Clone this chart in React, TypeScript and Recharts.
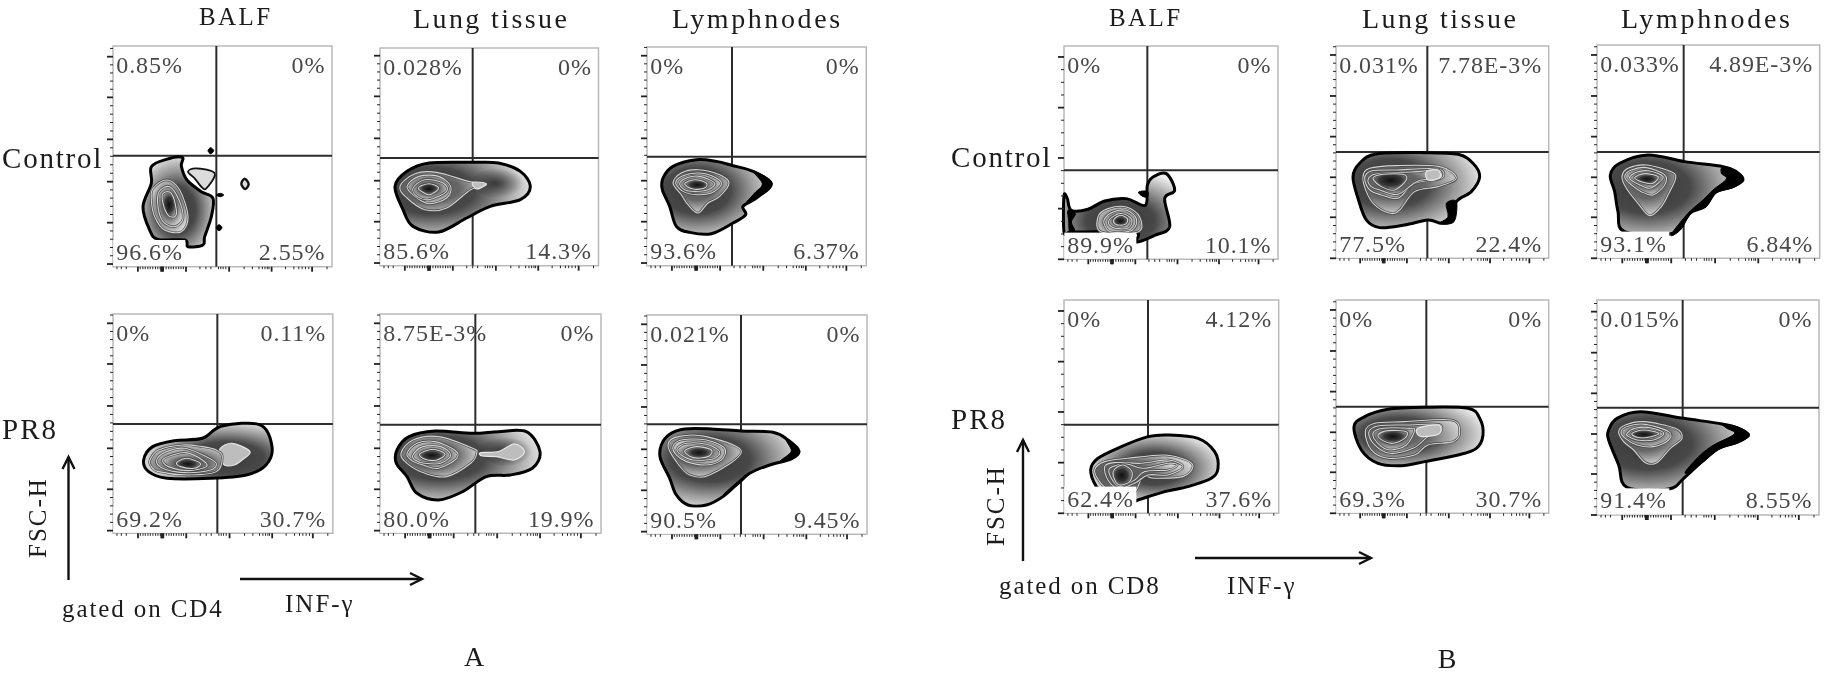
import React from "react";
import { ScatterChart, Scatter, XAxis, YAxis, ReferenceLine, ReferenceArea } from "recharts";

const SERIF = '"Liberation Serif", "Times New Roman", serif';

type Pt = { x: number; y: number };
type Kind = "outer" | "shade" | "ring" | "core" | "lobe" | "patch" | "ink" | "spot";
type Contour = { kind: Kind; pts: Pt[] };

const pts = (xs: number[], ys: number[]): Pt[] => xs.map((x, i) => ({ x, y: ys[i] }));
const c = (kind: Kind, xs: number[], ys: number[]): Contour => ({ kind, pts: pts(xs, ys) });

const xMinorTicks = [12, 25, 40, 82, 90, 97, 105, 112, 120, 128, 135, 142, 152, 160, 168, 175, 182, 190, 198, 205, 212, 262, 280, 295, 318, 325, 332, 340, 395, 420, 440, 450, 458, 465, 470, 520, 545, 560, 570, 580, 590, 645];
const xMajorTicks = [75, 145, 148, 151, 220, 350, 478, 600];
const yMajorA = [8, 132, 255, 382, 508, 630];
const yMajorB = [0, 123, 243, 365, 487, 610];
const yMajorBalf = [0, 152, 304, 455, 607];

const a1Labels = ["0.85%", "0%", "96.6%", "2.55%"];
const a2Labels = ["0.028%", "0%", "85.6%", "14.3%"];
const a3Labels = ["0%", "0%", "93.6%", "6.37%"];
const a4Labels = ["0%", "0.11%", "69.2%", "30.7%"];
const a5Labels = ["8.75E-3%", "0%", "80.0%", "19.9%"];
const a6Labels = ["0.021%", "0%", "90.5%", "9.45%"];
const b1Labels = ["0%", "0%", "89.9%", "10.1%"];
const b2Labels = ["0.031%", "7.78E-3%", "77.5%", "22.4%"];
const b3Labels = ["0.033%", "4.89E-3%", "93.1%", "6.84%"];
const b4Labels = ["0%", "4.12%", "62.4%", "37.6%"];
const b5Labels = ["0%", "0%", "69.3%", "30.7%"];
const b6Labels = ["0.015%", "0%", "91.4%", "8.55%"];

const a1Contours = [
  c("outer", [115, 160, 208, 205, 222, 265, 300, 295, 275, 270, 225, 215, 135, 110, 90, 115], [300, 322, 328, 302, 260, 225, 205, 150, 90, 65, 60, 80, 82, 110, 180, 250]),
  c("patch", [225, 250, 305, 280, 265, 245], [285, 295, 280, 235, 240, 265]),
  c("ring", [120, 160, 200, 225, 205, 155, 125, 115], [235, 260, 230, 150, 105, 110, 150, 200]),
  c("ring", [138, 170, 198, 210, 185, 150, 135], [225, 240, 200, 145, 120, 135, 180]),
  c("core", [150, 175, 190, 185, 165, 150], [220, 220, 170, 150, 155, 190]),
  c("spot", [385, 395, 407, 397], [248, 264, 248, 233]),
  c("ink", [285, 293, 302, 293], [348, 357, 348, 339]),
  c("ink", [310, 318, 327, 318], [117, 126, 117, 108]),
  c("ink", [310, 322, 332, 322], [215, 220, 215, 210]),
];
const a2Contours = [
  c("outer", [45, 81, 147, 278, 355, 421, 451, 421, 331, 260, 176, 99, 69], [238, 283, 308, 310, 308, 283, 238, 198, 178, 143, 101, 118, 168]),
  c("shade", [262, 331, 405, 430, 405, 331], [255, 290, 285, 250, 215, 205]),
  c("ring", [60, 105, 170, 265, 319, 272, 200, 135, 81], [238, 276, 280, 253, 243, 228, 173, 168, 203]),
  c("ring", [81, 117, 176, 212, 200, 147, 105], [238, 268, 268, 238, 203, 186, 208]),
  c("ring", [99, 135, 189, 200, 147, 111], [233, 258, 248, 223, 198, 208]),
  c("core", [115, 147, 176, 147], [233, 246, 233, 213]),
  c("lobe", [278, 319, 290], [250, 246, 230]),
];
const a3Contours = [
  c("outer", [48, 78, 148, 208, 258, 318, 373, 328, 288, 296, 258, 193, 128, 88, 68, 46], [263, 298, 318, 313, 300, 283, 246, 203, 178, 153, 128, 96, 100, 118, 178, 228]),
  c("ink", [318, 353, 375, 348, 298, 323, 346], [283, 268, 246, 218, 188, 218, 246]),
  c("ring", [78, 103, 153, 218, 246, 218, 183, 153, 123, 103], [248, 278, 288, 273, 248, 208, 188, 158, 183, 213]),
  c("ring", [86, 108, 158, 208, 223, 193, 148, 108], [248, 270, 278, 263, 243, 218, 213, 223]),
  c("ring", [98, 118, 158, 203, 183, 143, 113], [246, 263, 268, 248, 228, 223, 228]),
  c("core", [113, 143, 178, 173, 138], [246, 258, 248, 233, 230]),
];
const a4Contours = [
  c("outer", [92, 119, 185, 268, 327, 441, 477, 459, 400, 293, 162, 107], [220, 260, 278, 285, 322, 325, 260, 205, 175, 165, 165, 185]),
  c("lobe", [322, 358, 411, 387, 364, 334, 322], [255, 270, 245, 220, 205, 205, 230]),
  c("ring", [111, 137, 209, 268, 310, 328, 310, 220, 137, 115], [220, 250, 265, 260, 250, 230, 185, 175, 185, 200]),
  c("ring", [131, 161, 215, 280, 310, 292, 215, 149], [220, 245, 255, 230, 210, 190, 182, 195]),
  c("ring", [149, 179, 220, 268, 280, 226, 167], [220, 235, 242, 220, 200, 188, 200]),
  c("core", [191, 220, 262, 244, 203], [212, 225, 210, 195, 200]),
];
const a5Contours = [
  c("outer", [51, 87, 165, 278, 355, 439, 480, 457, 391, 319, 248, 176, 111, 81, 49], [250, 290, 307, 300, 305, 305, 245, 195, 175, 170, 125, 100, 120, 170, 210]),
  c("shade", [285, 355, 420, 455, 420, 350], [255, 285, 285, 245, 205, 205]),
  c("ring", [63, 99, 176, 278, 290, 272, 200, 135, 81], [240, 280, 290, 255, 240, 210, 170, 180, 210]),
  c("ring", [81, 111, 165, 224, 230, 176, 129, 93], [240, 270, 275, 250, 225, 195, 205, 220]),
  c("ring", [99, 129, 182, 212, 182, 135, 105], [235, 260, 260, 235, 210, 210, 220]),
  c("core", [119, 159, 195, 171, 135], [238, 252, 238, 220, 222]),
  c("lobe", [302, 355, 403, 433, 403, 349, 307], [242, 245, 268, 245, 220, 230, 232]),
];
const a6Contours = [
  c("outer", [43, 68, 113, 193, 283, 378, 423, 456, 433, 368, 308, 273, 228, 178, 123, 88, 68, 40], [268, 300, 316, 316, 310, 306, 283, 250, 226, 208, 183, 153, 113, 88, 88, 118, 168, 228]),
  c("ink", [418, 456, 433, 398, 423, 433], [283, 250, 226, 218, 238, 253]),
  c("ink", [228, 278, 308, 278], [118, 163, 183, 153]),
  c("ring", [63, 93, 178, 283, 188, 128, 88], [268, 293, 293, 248, 178, 178, 218]),
  c("ring", [78, 103, 178, 233, 223, 178, 118, 88], [263, 283, 283, 258, 223, 208, 218, 238]),
  c("ring", [90, 118, 178, 218, 198, 138, 103], [256, 273, 270, 248, 226, 223, 238]),
  c("core", [113, 148, 193, 183, 138], [250, 263, 253, 233, 230]),
];
const b1Contours = [
  c("outer", [0, 10, 22, 72, 122, 187, 244, 250, 267, 307, 332, 302, 317, 272, 217, 212, 47, 17, 0], [190, 182, 147, 150, 175, 182, 162, 222, 247, 257, 207, 182, 97, 72, 52, 82, 82, 82, 82]),
  c("ink", [12, 34, 22, 32, 17, 14], [147, 137, 112, 87, 82, 117]),
  c("ink", [224, 250, 250, 234], [202, 204, 187, 190]),
  c("ring", [102, 132, 187, 227, 222, 112], [127, 152, 157, 127, 82, 82]),
  c("ring", [122, 147, 187, 217, 204, 142, 122], [122, 142, 147, 122, 87, 82, 102]),
  c("ring", [137, 167, 197, 204, 192, 162, 137], [120, 137, 127, 112, 94, 92, 102]),
  c("core", [150, 170, 190, 187, 167, 152], [120, 132, 122, 107, 102, 107]),
];
const b2Contours = [
  c("outer", [51, 71, 121, 266, 366, 411, 431, 406, 361, 351, 316, 276, 206, 131, 91, 66], [245, 285, 313, 317, 312, 285, 245, 200, 170, 115, 105, 115, 100, 92, 115, 180]),
  c("ink", [331, 361, 354, 311, 336], [165, 170, 110, 105, 125]),
  c("ring", [81, 101, 181, 311, 361, 306, 236, 191, 161, 116, 91], [245, 270, 278, 275, 240, 215, 200, 145, 135, 160, 200]),
  c("ring", [86, 106, 181, 306, 316, 236, 186, 136, 101], [240, 262, 265, 268, 240, 225, 180, 190, 205]),
  c("ring", [96, 116, 196, 246, 306, 311, 246, 186, 131, 106], [235, 252, 258, 260, 265, 240, 232, 192, 205, 215]),
  c("core", [111, 141, 201, 211, 176, 136], [240, 252, 252, 235, 205, 215]),
  c("lobe", [271, 306, 311, 276], [260, 265, 242, 235]),
];
const b3Contours = [
  c("outer", [40, 68, 153, 263, 378, 418, 438, 408, 358, 323, 278, 228, 83, 63, 53], [250, 285, 310, 290, 275, 260, 235, 215, 200, 155, 135, 75, 80, 140, 200]),
  c("ink", [378, 418, 438, 408, 356, 328, 288, 243, 223, 273, 318, 348, 388, 373], [275, 260, 235, 212, 195, 155, 140, 80, 72, 135, 175, 205, 238, 255]),
  c("ring", [75, 93, 148, 223, 236, 218, 193, 158, 123, 88], [245, 270, 280, 260, 240, 200, 155, 128, 165, 210]),
  c("ring", [83, 103, 148, 203, 203, 168, 133, 103], [245, 265, 272, 250, 220, 190, 200, 220]),
  c("ring", [98, 118, 158, 198, 183, 158, 128], [240, 258, 262, 245, 225, 210, 220]),
  c("core", [113, 143, 183, 168, 138], [242, 254, 245, 225, 228]),
];
const b4Contours = [
  c("outer", [80, 102, 172, 252, 312, 402, 452, 462, 442, 372, 302, 222, 187, 122, 97], [130, 165, 200, 230, 235, 225, 185, 135, 105, 80, 65, 40, 30, 60, 80]),
  c("ring", [92, 122, 192, 302, 367, 387, 357, 272, 237, 207, 137, 107], [130, 155, 165, 175, 160, 140, 110, 105, 110, 60, 70, 95]),
  c("ring", [122, 152, 232, 312, 357, 312, 252, 212, 162, 132], [140, 152, 150, 160, 140, 115, 115, 90, 75, 100]),
  c("ring", [137, 187, 237, 312, 340, 312, 242, 212, 167, 142], [135, 148, 135, 150, 145, 130, 125, 100, 80, 105]),
  c("core", [150, 177, 204, 197, 167, 150], [130, 145, 125, 95, 85, 105]),
];
const b5Contours = [
  c("outer", [54, 86, 156, 266, 396, 431, 441, 421, 366, 266, 196, 126, 76], [260, 290, 312, 318, 315, 285, 235, 195, 175, 155, 143, 150, 190]),
  c("ring", [88, 116, 206, 346, 371, 351, 276, 236, 156, 106], [245, 270, 275, 280, 245, 215, 205, 175, 165, 190]),
  c("ring", [98, 126, 216, 306, 314, 276, 231, 161, 116], [242, 262, 265, 267, 245, 230, 195, 180, 205]),
  c("ring", [111, 141, 216, 236, 211, 161, 126], [240, 255, 255, 250, 205, 190, 210]),
  c("core", [126, 156, 211, 206, 171, 141], [235, 248, 245, 225, 210, 218]),
  c("lobe", [246, 306, 311, 266, 246], [255, 265, 240, 230, 235]),
];
const b6Contours = [
  c("outer", [35, 60, 130, 260, 375, 425, 455, 425, 365, 315, 260, 215, 90, 65, 35], [255, 290, 310, 290, 273, 260, 240, 220, 200, 160, 110, 78, 83, 150, 225]),
  c("ink", [375, 425, 455, 420, 365, 320, 280, 265, 310, 350, 412, 390], [273, 263, 240, 215, 197, 160, 130, 130, 180, 210, 243, 260]),
  c("ring", [65, 85, 140, 235, 255, 220, 180, 145, 110, 80], [250, 270, 280, 260, 230, 200, 157, 157, 195, 220]),
  c("ring", [72, 95, 145, 215, 215, 170, 120, 85], [250, 267, 272, 250, 225, 205, 210, 230]),
  c("ring", [90, 115, 160, 200, 170, 120, 95], [245, 260, 262, 245, 225, 225, 235]),
  c("core", [105, 140, 185, 155, 120], [245, 255, 245, 233, 233]),
];

type Panel = {
  id: string; left: number; top: number; width: number; height: number;
  gateX: number; gateY: number; hub: Pt; yMajor: number[]; labels: string[]; contours: Contour[];
};

const panels: Panel[] = [
  { id: "a1", left: 113.3, top: 46, width: 219, height: 220.7, gateX: 310, gateY: 333, hub: { x: 190, y: 170 }, yMajor: yMajorA, labels: a1Labels, contours: a1Contours },
  { id: "a2", left: 380, top: 48.3, width: 218.5, height: 217.7, gateX: 278, gateY: 323, hub: { x: 150, y: 225 }, yMajor: yMajorA, labels: a2Labels, contours: a2Contours },
  { id: "a3", left: 647.3, top: 47.3, width: 219.3, height: 218.7, gateX: 255, gateY: 327, hub: { x: 150, y: 225 }, yMajor: yMajorA, labels: a3Labels, contours: a3Contours },
  { id: "a4", left: 113.3, top: 314, width: 219.8, height: 219.3, gateX: 313, gateY: 328, hub: { x: 340, y: 225 }, yMajor: yMajorA, labels: a4Labels, contours: a4Contours },
  { id: "a5", left: 380, top: 314, width: 221, height: 219.3, gateX: 286, gateY: 326, hub: { x: 180, y: 225 }, yMajor: yMajorA, labels: a5Labels, contours: a5Contours },
  { id: "a6", left: 647.3, top: 315, width: 220, height: 219.3, gateX: 282, gateY: 330, hub: { x: 190, y: 225 }, yMajor: yMajorA, labels: a6Labels, contours: a6Contours },
  { id: "b1", left: 1064.3, top: 45.7, width: 214, height: 213.3, gateX: 250, gateY: 267, hub: { x: 170, y: 115 }, yMajor: yMajorBalf, labels: b1Labels, contours: b1Contours },
  { id: "b2", left: 1336.3, top: 46, width: 212.7, height: 212.3, gateX: 274, gateY: 319, hub: { x: 160, y: 225 }, yMajor: yMajorB, labels: b2Labels, contours: b2Contours },
  { id: "b3", left: 1597.3, top: 45, width: 222.7, height: 213.3, gateX: 260, gateY: 319, hub: { x: 150, y: 215 }, yMajor: yMajorB, labels: b3Labels, contours: b3Contours },
  { id: "b4", left: 1064.3, top: 300, width: 214.7, height: 213.3, gateX: 252, gateY: 266, hub: { x: 270, y: 135 }, yMajor: yMajorBalf, labels: b4Labels, contours: b4Contours },
  { id: "b5", left: 1336.3, top: 300, width: 212.7, height: 213.3, gateX: 271, gateY: 320, hub: { x: 190, y: 235 }, yMajor: yMajorB, labels: b5Labels, contours: b5Contours },
  { id: "b6", left: 1596.7, top: 300, width: 222, height: 215, gateX: 257, gateY: 322, hub: { x: 150, y: 215 }, yMajor: yMajorB, labels: b6Labels, contours: b6Contours },
];

type Caption = { text: string; x: number; y: number; size: number; spacing?: number; anchor?: "middle" | "start"; rotate?: boolean };
const captions: Caption[] = [
  { text: "BALF", x: 199, y: 25, size: 25, spacing: 2.4 },
  { text: "Lung tissue", x: 413, y: 28, size: 28, spacing: 2.4 },
  { text: "Lymphnodes", x: 672, y: 28, size: 28, spacing: 2.6 },
  { text: "Control", x: 2, y: 168, size: 29, spacing: 1.8 },
  { text: "PR8", x: 2, y: 439, size: 29, spacing: 2 },
  { text: "FSC-H", x: 46, y: 558, size: 25, spacing: 2, rotate: true },
  { text: "gated on CD4", x: 62, y: 617, size: 25, spacing: 1.9 },
  { text: "INF-γ", x: 285, y: 612, size: 25, spacing: 2 },
  { text: "A", x: 474, y: 666, size: 28, anchor: "middle" },
  { text: "BALF", x: 1109, y: 26, size: 25, spacing: 2.4 },
  { text: "Lung tissue", x: 1362, y: 28, size: 28, spacing: 2.4 },
  { text: "Lymphnodes", x: 1621, y: 28, size: 28, spacing: 2.7 },
  { text: "Control", x: 951, y: 167, size: 29, spacing: 1.8 },
  { text: "PR8", x: 951, y: 429, size: 29, spacing: 2 },
  { text: "FSC-H", x: 1004, y: 546, size: 25, spacing: 2, rotate: true },
  { text: "gated on CD8", x: 999, y: 594, size: 25, spacing: 1.9 },
  { text: "INF-γ", x: 1227, y: 594, size: 25, spacing: 2 },
  { text: "B", x: 1447, y: 668, size: 28, anchor: "middle" },
];

const stopsFor: Record<string, [number, string, number?][]> = {
  outer: [[0, "#383838"], [0.42, "#484848"], [0.68, "#989898"], [1, "#f0f0f0"]],
  ring: [[0, "#555555"], [0.5, "#666666"], [1, "#dcdcdc"]],
  core: [[0, "#101010"], [0.5, "#363636"], [1, "#a8a8a8"]],
  shade: [[0, "#2a2a2a", 0.85], [1, "#2a2a2a", 0]],
};

const smoothPath = (p: Pt[]) => {
  const n = p.length;
  let d = `M${p[0].x},${p[0].y}`;
  for (let i = 0; i < n; i++) {
    const p0 = p[(i - 1 + n) % n], p1 = p[i], p2 = p[(i + 1) % n], p3 = p[(i + 2) % n];
    d += `C${p1.x + (p2.x - p0.x) / 6},${p1.y + (p2.y - p0.y) / 6} ${p2.x - (p3.x - p1.x) / 6},${p2.y - (p3.y - p1.y) / 6} ${p2.x},${p2.y}`;
  }
  return d + "Z";
};

const centroid = (list: Pt[]): Pt => ({
  x: list.reduce((s, q) => s + q.x, 0) / list.length,
  y: list.reduce((s, q) => s + q.y, 0) / list.length,
});

// Scatter's line callback gets the points already run through the axis scales
const contourLine = (contour: Contour, id: string, hub: Pt, coreHub: Pt) => (props: any) => {
  const d = smoothPath(props.points);
  const { kind } = contour;
  if (kind === "ink") return <path d={d} fill="#000" stroke="#000" strokeWidth={1} />;
  if (kind === "spot") return <path d={d} fill="#ddd" stroke="#111" strokeWidth={2.4} />;
  if (kind === "lobe") return <path d={d} fill="#bdbdbd" stroke="#e6e6e6" strokeWidth={1.2} />;
  if (kind === "patch") return <path d={d} fill="#dcdcdc" stroke="#111" strokeWidth={1.8} />;

  const focus = kind === "outer" ? hub : coreHub;
  const xs = contour.pts.map((q) => q.x), ys = contour.pts.map((q) => q.y);
  const minX = Math.min(...xs), maxX = Math.max(...xs), minY = Math.min(...ys), maxY = Math.max(...ys);
  const cx = kind === "shade" ? 0.5 : Math.min(1, Math.max(0, (focus.x - minX) / (maxX - minX)));
  const cy = kind === "shade" ? 0.5 : Math.min(1, Math.max(0, (maxY - focus.y) / (maxY - minY)));
  const r = kind === "shade" ? 0.5 : 0.55 + Math.max(Math.abs(cx - 0.5), Math.abs(cy - 0.5));
  const gradient = (
    <radialGradient id={id} cx={cx} cy={cy} r={r}>
      {stopsFor[kind].map(([o, col, a], i) => <stop key={i} offset={o} stopColor={col} stopOpacity={a ?? 1} />)}
    </radialGradient>
  );
  if (kind === "outer") return <g><defs>{gradient}</defs><path d={d} fill={`url(#${id})`} stroke="#000" strokeWidth={3} /></g>;
  if (kind === "shade") return <g><defs>{gradient}</defs><path d={d} fill={`url(#${id})`} stroke="none" /></g>;
  return (
    <g>
      <defs>{gradient}</defs>
      <path d={d} fill={`url(#${id})`} stroke="#444" strokeWidth={2.4} />
      <path d={d} fill="none" stroke="#d4d4d4" strokeWidth={1.1} />
    </g>
  );
};

const NoDot = () => <g />;

const QuadrantLabel = (props: any) => {
  const { cx, cy, payload } = props;
  return (
    <g>
      {payload.mask && <rect x={cx - 3} y={cy - 20} width={72} height={26} fill="#fff" />}
      <text x={cx} y={cy} textAnchor={payload.anchor} fontFamily={SERIF} fontSize={24} letterSpacing={0.9} fill="#484848">{payload.text}</text>
    </g>
  );
};

const between = (majors: number[], count: number) => {
  const out: number[] = [];
  for (let i = 0; i + 1 < majors.length; i++) {
    for (let k = 1; k <= count; k++) out.push(majors[i] + ((majors[i + 1] - majors[i]) * k) / (count + 1));
  }
  const step = (majors[1] - majors[0]) / (count + 1);
  for (let v = majors[majors.length - 1] + step; v < 660; v += step) out.push(v);
  return out;
};

function FlowPanel({ panel }: { panel: Panel }) {
  const domX = panel.width * 3, domY = panel.height * 3;
  const sx = domX / 660;
  const xMajor = xMajorTicks.map((t) => t * sx);
  const xTicks = [...xMinorTicks.map((t) => t * sx), ...xMajor];
  const yMinor = between(panel.yMajor, panel.yMajor === yMajorBalf ? 3 : 4).filter((t) => t < domY);
  const yTicks = [...yMinor, ...panel.yMajor];
  const core = panel.contours.find((k) => k.kind === "core");
  const coreHub = core ? centroid(core.pts) : panel.hub;

  const labelData = [
    { x: 10, y: domY - 80, text: panel.labels[0], anchor: "start", mask: false },
    { x: domX - 20, y: domY - 80, text: panel.labels[1], anchor: "end", mask: false },
    { x: 10, y: 20, text: panel.labels[2], anchor: "start", mask: true },
    { x: domX - 20, y: 20, text: panel.labels[3], anchor: "end", mask: false },
  ];

  const XTick = ({ x, y, payload }: any) => {
    const major = xMajor.includes(payload.value);
    return <line x1={x} x2={x} y1={y} y2={y + (major ? 5 : 2.5)} stroke="#222" strokeWidth={major ? 1.8 : 1} />;
  };
  const YTick = ({ x, y, payload }: any) => {
    const major = panel.yMajor.includes(payload.value);
    return <line x1={x} x2={x - (major ? 6 : 3)} y1={y} y2={y} stroke="#222" strokeWidth={major ? 1.8 : 1} />;
  };

  return (
    <div style={{ position: "absolute", left: panel.left - 10, top: panel.top - 4 }}>
      <ScatterChart width={panel.width + 14} height={panel.height + 14} margin={{ top: 4, right: 4, bottom: 0, left: 0 }}>
        <XAxis type="number" dataKey="x" domain={[0, domX]} ticks={xTicks} interval={0} height={10} tickSize={0} tickMargin={0} axisLine={false} tickLine={false} tick={XTick} />
        <YAxis type="number" dataKey="y" domain={[0, domY]} ticks={yTicks} interval={0} width={10} tickSize={0} tickMargin={0} axisLine={false} tickLine={false} tick={YTick} />
        <ReferenceArea x1={0} x2={domX} y1={0} y2={domY} fill="none" stroke="#b9b9b9" strokeWidth={1.5} />
        {panel.contours.map((contour, i) => (
          <Scatter key={i} data={contour.pts} line={contourLine(contour, `${panel.id}-${i}`, panel.hub, coreHub)} lineType="joint" shape={NoDot} isAnimationActive={false} />
        ))}
        <ReferenceLine x={panel.gateX} stroke="#2c2c2c" strokeWidth={2} />
        <ReferenceLine y={panel.gateY} stroke="#2c2c2c" strokeWidth={2} />
        <Scatter data={labelData} shape={QuadrantLabel} isAnimationActive={false} />
      </ScatterChart>
    </div>
  );
}

const Arrow = ({ x1, y1, x2, y2 }: { x1: number; y1: number; x2: number; y2: number }) => {
  const up = x1 === x2;
  const head = up
    ? `${x2 - 6},${y2 + 12} ${x2},${y2} ${x2 + 6},${y2 + 12}`
    : `${x2 - 12},${y2 - 6} ${x2},${y2} ${x2 - 12},${y2 + 6}`;
  return (
    <g fill="none" stroke="#111" strokeWidth={2.4}>
      <line x1={x1} y1={y1} x2={x2} y2={y2} />
      <polyline points={head} />
    </g>
  );
};

export default function App() {
  return (
    <div style={{ position: "absolute", left: 0, top: 0, width: 1832, height: 693, background: "#fff", overflow: "hidden", filter: "blur(0.4px)" }}>
      <svg width={1832} height={693} style={{ position: "absolute", left: 0, top: 0 }}>
        {captions.map((t, i) => (
          <text
            key={i}
            x={t.x}
            y={t.y}
            fontFamily={SERIF}
            fontSize={t.size}
            letterSpacing={t.spacing ?? 0}
            fill="#1c1c1c"
            textAnchor={t.anchor ?? "start"}
            transform={t.rotate ? `rotate(-90 ${t.x} ${t.y})` : undefined}
          >
            {t.text}
          </text>
        ))}
        <Arrow x1={68.5} y1={580} x2={68.5} y2={457} />
        <Arrow x1={240} y1={579} x2={422} y2={579} />
        <Arrow x1={1023} y1={561} x2={1023} y2={440} />
        <Arrow x1={1195} y1={558} x2={1371} y2={558} />
      </svg>
      {panels.map((p) => <FlowPanel key={p.id} panel={p} />)}
    </div>
  );
}
